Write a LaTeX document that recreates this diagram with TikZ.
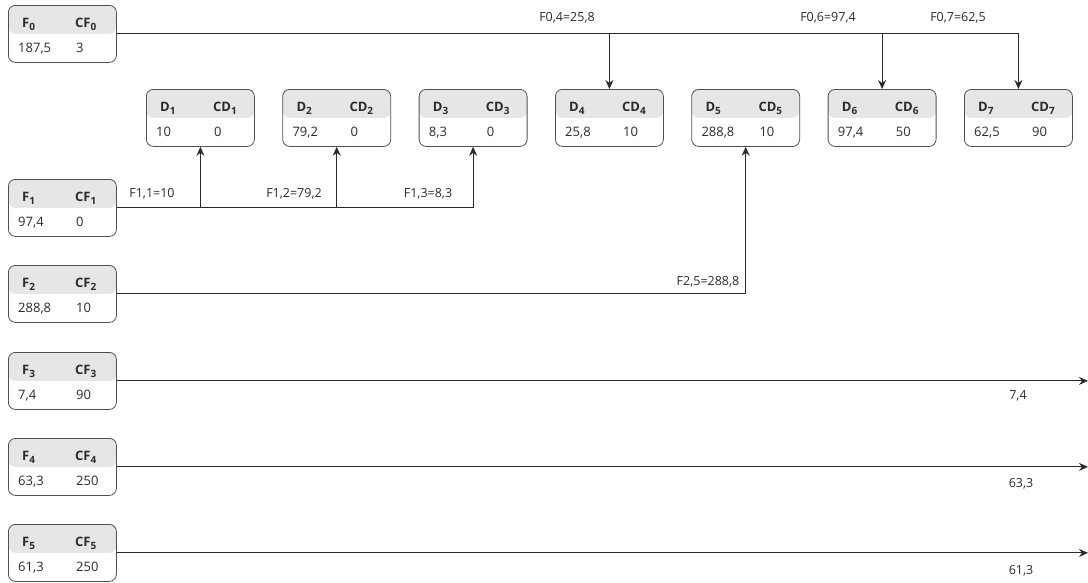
\documentclass[tikz,border=0pt]{standalone}
\usepackage{fontspec}
\setmainfont{Open Sans}
\usetikzlibrary{arrows.meta}
\definecolor{ink}{HTML}{2B2B2B}
\definecolor{headgray}{HTML}{E6E6E6}
\definecolor{frame}{HTML}{505050}

\newcommand\sub[1]{\raisebox{-0.3em}{\fontsize{10}{11}\selectfont #1}}

\tikzset{
  x=1pt, y=-1pt,
  tbl/.style={draw=frame, line width=0.8pt, rounded corners=7pt,
    minimum width=108pt, minimum height=57pt, anchor=north west, inner sep=0pt,
    path picture={\fill[headgray] (path picture bounding box.north west)
      rectangle (path picture bounding box.east);}},
  hd/.style={anchor=base west, font=\fontsize{13}{15}\selectfont\bfseries, text=ink, inner sep=0pt},
  vl/.style={anchor=base west, font=\fontsize{13}{15}\selectfont, text=ink, inner sep=0pt},
  lbl/.style={font=\fontsize{12.5}{14}\selectfont, text=ink, inner sep=0pt},
  link/.style={draw=ink, line width=0.9pt},
  flow/.style={link, -{Stealth[length=9pt,width=8pt,inset=3pt]}},
}

% name, left, top, head 1, head 2, value 1, value 2
\newcommand\tablebox[7]{%
  \node[tbl] (#1) at (#2,#3) {};
  \node[hd] (#1-ha) at (#2+14,#3+22) {#4};
  \node[hd] (#1-hb) at (#2+67,#3+22) {#5};
  \node[vl] (#1-va) at (#2+10,#3+47) {#6};
  \node[vl] (#1-vb) at (#2+68,#3+47) {#7};
}

\begin{document}
\begin{tikzpicture}
\useasboundingbox (0,0) rectangle (1088,582);

% sources
\tablebox{F0}{8}{5}{F\sub{0}}{CF\sub{0}}{187,5}{3}
\tablebox{F1}{8}{179}{F\sub{1}}{CF\sub{1}}{97,4}{0}
\tablebox{F2}{8}{265}{F\sub{2}}{CF\sub{2}}{288,8}{10}
\tablebox{F3}{8}{352}{F\sub{3}}{CF\sub{3}}{7,4}{90}
\tablebox{F4}{8}{438}{F\sub{4}}{CF\sub{4}}{63,3}{250}
\tablebox{F5}{8}{524}{F\sub{5}}{CF\sub{5}}{61,3}{250}

% demands
\tablebox{D1}{146}{89}{D\sub{1}}{CD\sub{1}}{10}{0}
\tablebox{D2}{282.3}{89}{D\sub{2}}{CD\sub{2}}{79,2}{0}
\tablebox{D3}{418.7}{89}{D\sub{3}}{CD\sub{3}}{8,3}{0}
\tablebox{D4}{555}{89}{D\sub{4}}{CD\sub{4}}{25,8}{10}
\tablebox{D5}{691.3}{89}{D\sub{5}}{CD\sub{5}}{288,8}{10}
\tablebox{D6}{827.7}{89}{D\sub{6}}{CD\sub{6}}{97,4}{50}
\tablebox{D7}{964}{89}{D\sub{7}}{CD\sub{7}}{62,5}{90}

\coordinate (rim) at (1088,0);

% F0 supplies D4, D6, D7
\draw[flow] (F0.east) -| (D7.north);
\draw[flow] (D4.north |- F0.east) -- (D4.north);
\draw[flow] (D6.north |- F0.east) -- (D6.north);

% F1 supplies D1, D2, D3
\draw[flow] (F1.east) -| (D3.south);
\draw[flow] (D1.south |- F1.east) -- (D1.south);
\draw[flow] (D2.south |- F1.east) -- (D2.south);

% F2 supplies D5
\draw[flow] (F2.east) -| (D5.south);

% unused supply
\draw[flow] (F3.east) -- (F3.east -| rim);
\draw[flow] (F4.east) -- (F4.east -| rim);
\draw[flow] (F5.east) -- (F5.east -| rim);

% flow labels
\node[lbl] (l04) at (567,18) {F0,4=25,8};
\node[lbl] (l06) at (828,18) {F0,6=97,4};
\node[lbl] (l07) at (958,18) {F0,7=62,5};
\node[lbl] (l11) at (152,194) {F1,1=10};
\node[lbl] (l12) at (294,194) {F1,2=79,2};
\node[lbl] (l13) at (428,194) {F1,3=8,3};
\node[lbl] (l25) at (708,282) {F2,5=288,8};
\node[lbl] (r3) at (1018,396) {7,4};
\node[lbl] (r4) at (1021,484) {63,3};
\node[lbl] (r5) at (1021,571) {61,3};
\end{tikzpicture}
\end{document}
